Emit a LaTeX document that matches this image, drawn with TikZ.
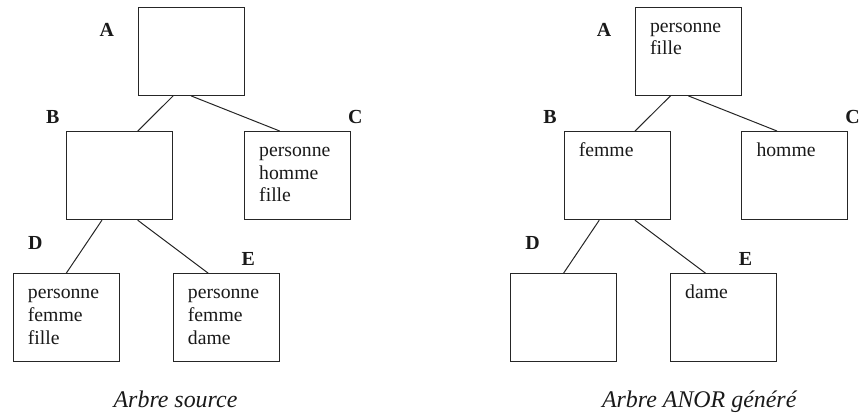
\documentclass[tikz,border=0pt]{standalone}
\usepackage{fontspec}
\setmainfont{Liberation Serif}
\usetikzlibrary{calc}
\begin{document}
\begin{tikzpicture}[x=1bp,y=-1bp,
  box/.style={draw=black!85, line width=1bp, minimum width=106bp, minimum height=88bp, inner sep=0pt},
  lbl/.style={font=\fontsize{20}{24}\selectfont\bfseries, inner sep=0pt, text=black!90},
  txt/.style={font=\fontsize{19.8}{22.7}\selectfont, anchor=base west, inner sep=0pt, text=black!90},
  captn/.style={font=\fontsize{24}{28}\selectfont\itshape, anchor=base, inner sep=0pt, text=black!90},
  conn/.style={draw=black!85, line width=1bp}]
\useasboundingbox (0,0) rectangle (861,412);

% ---------- left tree ----------
\node[box] (LA) at (191,51.35) {};
\node[box] (LB) at (119.8,175.65) {};
\node[box] (LC) at (297.5,175.5) {};
\node[box] (LD) at (66.2,317.8) {};
\node[box] (LE) at (226.2,317.8) {};

\node[lbl] (LlA) at (106.7,30) {A};
\node[lbl] (LlB) at (52.7,117) {B};
\node[lbl] (LlC) at (355.2,117) {C};
\node[lbl] (LlD) at (35.2,242.7) {D};
\node[lbl] (LlE) at (248.3,259.3) {E};

\node[txt] (LtC) at ([xshift=15bp,yshift=-25.5bp]LC.north west)
  {\vtop{\hbox{personne}\hbox{homme}\hbox{fille}}};
\node[txt] (LtD) at ([xshift=15bp,yshift=-25.5bp]LD.north west)
  {\vtop{\hbox{personne}\hbox{femme}\hbox{fille}}};
\node[txt] (LtE) at ([xshift=15bp,yshift=-25.5bp]LE.north west)
  {\vtop{\hbox{personne}\hbox{femme}\hbox{dame}}};

\draw[conn] ($(LA.south west)!1/3!(LA.south east)$) -- ($(LB.north west)!2/3!(LB.north east)$);
\draw[conn] (LA.south) -- ($(LC.north west)!1/3!(LC.north east)$);
\draw[conn] ($(LB.south west)!1/3!(LB.south east)$) -- (LD.north);
\draw[conn] ($(LB.south west)!2/3!(LB.south east)$) -- ($(LE.north west)!1/3!(LE.north east)$);

\node[captn] (Lcap) at (175.5,407.8) {Arbre source};

% ---------- right tree ----------
\begin{scope}[xshift=497.3bp]
\node[box] (RA) at (191,51.35) {};
\node[box] (RB) at (119.8,175.65) {};
\node[box] (RC) at (297.5,175.5) {};
\node[box] (RD) at (66.2,317.8) {};
\node[box] (RE) at (226.2,317.8) {};

\node[lbl] (RlA) at (106.7,30) {A};
\node[lbl] (RlB) at (52.7,117) {B};
\node[lbl] (RlC) at (355.2,117) {C};
\node[lbl] (RlD) at (35.2,242.7) {D};
\node[lbl] (RlE) at (248.3,259.3) {E};

\node[captn] (Rcap) at (201.9,407.8) {Arbre ANOR généré};
\end{scope}

\node[txt] (RtA) at ([xshift=15bp,yshift=-25.5bp]RA.north west)
  {\vtop{\hbox{personne}\hbox{fille}}};
\node[txt] (RtB) at ([xshift=15bp,yshift=-25.5bp]RB.north west) {femme};
\node[txt] (RtC) at ([xshift=15bp,yshift=-25.5bp]RC.north west) {homme};
\node[txt] (RtE) at ([xshift=15bp,yshift=-25.5bp]RE.north west) {dame};

\draw[conn] ($(RA.south west)!1/3!(RA.south east)$) -- ($(RB.north west)!2/3!(RB.north east)$);
\draw[conn] (RA.south) -- ($(RC.north west)!1/3!(RC.north east)$);
\draw[conn] ($(RB.south west)!1/3!(RB.south east)$) -- (RD.north);
\draw[conn] ($(RB.south west)!2/3!(RB.south east)$) -- ($(RE.north west)!1/3!(RE.north east)$);
\end{tikzpicture}
\end{document}
